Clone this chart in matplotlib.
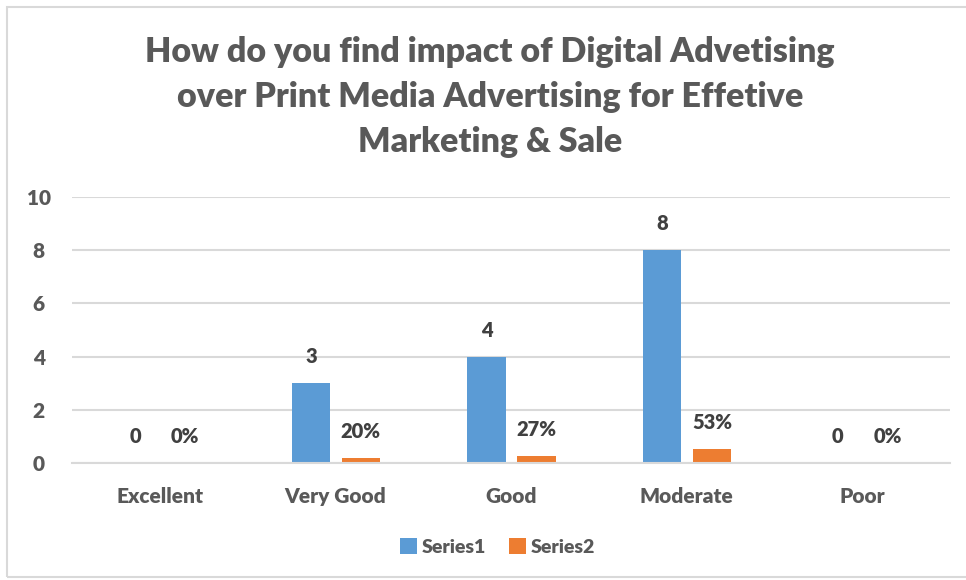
import numpy as np
import matplotlib.pyplot as plt
from matplotlib import font_manager as fm

# heavy Lato face for all text
lato = [f.fname for f in fm.fontManager.ttflist
        if f.name == 'Lato' and f.weight == 800 and f.style == 'normal'][0]


def font(size):
    return fm.FontProperties(fname=lato, size=size)


# Survey responses
categories = ['Excellent', 'Very Good', 'Good', 'Moderate', 'Poor']
series1 = [0, 3, 4, 8, 0]
series2 = [0, 0.20, 0.27, 0.53, 0]

blue = '#5B9BD5'
orange = '#ED7D31'
grid_col = '#D9D9D9'
text_col = '#595959'

fig = plt.figure(figsize=(9.66, 5.8), dpi=100)
ax = fig.add_axes([72/966, 1 - 463/580, (950 - 72)/966, (463 - 197)/580])

x = np.arange(len(categories))
w = 0.22
b1 = ax.bar(x - 0.14, series1, w, color=blue, label='Series1')
b2 = ax.bar(x + 0.145, series2, w, color=orange, label='Series2')

for rect, v in zip(b1, series1):
    ax.annotate(f'{v}', (rect.get_x() + rect.get_width()/2, v),
                xytext=(0, 19), textcoords='offset points', ha='center',
                va='center', fontproperties=font(14.5), color='#404040')
for rect, v in zip(b2, series2):
    ax.annotate(f'{v:.0%}', (rect.get_x() + rect.get_width()/2, v),
                xytext=(0, 19), textcoords='offset points', ha='center',
                va='center', fontproperties=font(14.5), color='#404040')

ax.set_xlim(-0.5, len(categories) - 0.5)
ax.set_ylim(0, 10)
ax.set_yticks(np.arange(0, 11, 2))
ax.yaxis.grid(True, color=grid_col, linewidth=1.5)
ax.set_axisbelow(True)
for s in ['top', 'right', 'left']:
    ax.spines[s].set_visible(False)
ax.spines['bottom'].set_color(grid_col)
ax.spines['bottom'].set_linewidth(1.5)
ax.tick_params(length=0, labelcolor=text_col)
ax.tick_params(axis='y', pad=24)
ax.tick_params(axis='x', pad=17)
ax.set_xticks(x)
ax.set_xticklabels(categories)
for lab in ax.get_xticklabels() + ax.get_yticklabels():
    lab.set_fontproperties(font(15))
for lab in ax.get_yticklabels():
    lab.set_horizontalalignment('center')

fig.text(0.507, 1 - 97/580,
         'How do you find impact of Digital Advetising\n'
         'over Print Media Advertising for Effetive\n'
         'Marketing & Sale',
         ha='center', va='center', fontproperties=font(24.5),
         color=text_col, linespacing=1.5)

leg = fig.legend(handles=[b1, b2], loc='center', bbox_to_anchor=(0.515, 1 - 547/580),
                 ncol=2, frameon=False, prop=font(14),
                 handlelength=0.85, handleheight=0.85, columnspacing=1.2,
                 handletextpad=0.25)
for t in leg.get_texts():
    t.set_color(text_col)

# outer chart frame
fig.patches.append(plt.Rectangle((7/966, 3/580), 1, 1 - 10/580,
                                 transform=fig.transFigure, fill=False,
                                 edgecolor='#D9D9D9', linewidth=1.5))

fig.savefig('out.png', dpi=100)
